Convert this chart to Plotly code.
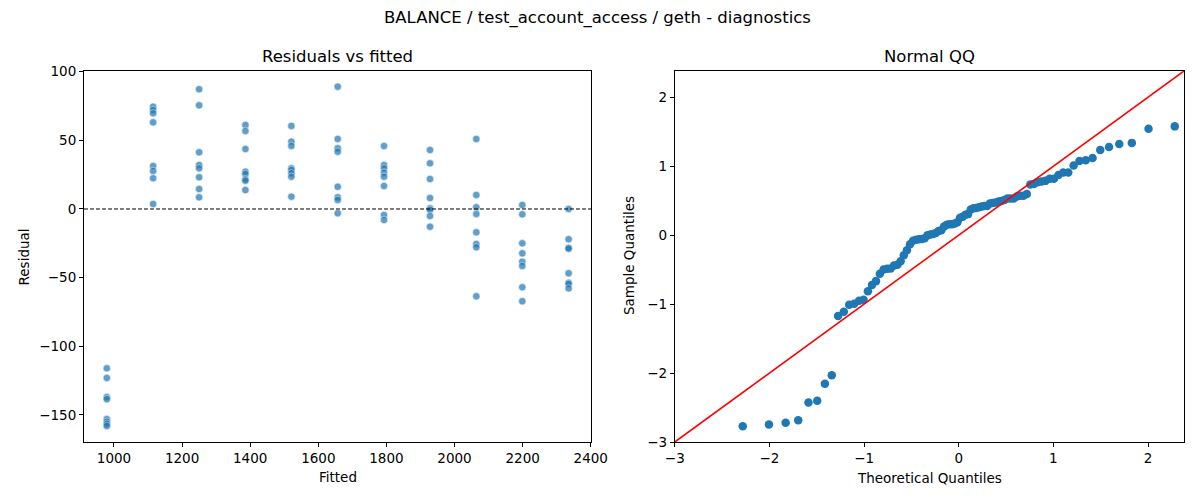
import statistics
import plotly.graph_objects as go

# residuals vs fitted: 11 fitted levels, 8 residuals at each
fitted_levels = [979, 1115, 1250, 1386, 1521, 1657, 1793, 1928, 2064, 2199, 2335]
residual_groups = [
    [-116, -123, -137, -138.5, -153, -155, -156.5, -158],
    [74.5, 72.1, 69.7, 63.1, 31.3, 27.7, 22.4, 3.6],
    [87.2, 75.5, 41.3, 32, 29.6, 23.1, 14.6, 8.5],
    [61.2, 56.8, 43.7, 27.2, 25.5, 21.6, 20.6, 13.8],
    [60.5, 49, 45.9, 29.6, 28.4, 26, 23.5, 9],
    [89.1, 51, 44.2, 41.7, 16.2, 8.5, 6.6, -3.1],
    [45.9, 32, 29.6, 26.4, 23.5, 16.8, -4.4, -8],
    [43, 33.3, 21.8, 8, 0.5, -0.7, -5.1, -12.9],
    [51, 10.2, 1.2, -3.6, -17, -25.5, -27.9, -63.6],
    [2.9, -3.9, -25, -32.3, -38.4, -41.5, -57, -67.2],
    [0, -22, -28.2, -28.9, -46.8, -53.7, -54.6, -57.8],
]

left_xticks = [1000, 1200, 1400, 1600, 1800, 2000, 2200, 2400]
left_yticks = [-150, -100, -50, 0, 50, 100]
qq_ticks = [-3, -2, -1, 0, 1, 2]

fitted = []
resid = []
for f, grp in zip(fitted_levels, residual_groups):
    for r in grp:
        fitted.append(f)
        resid.append(r)

# normal QQ (fit=True): standardise residuals, plotting positions i/(n+1)
n = len(resid)
mu = sum(resid) / n
sd = (sum((r - mu) ** 2 for r in resid) / n) ** 0.5
sample_q = sorted((r - mu) / sd for r in resid)
nd = statistics.NormalDist()
theo_q = [nd.inv_cdf(i / (n + 1)) for i in range(1, n + 1)]

FONT = "DejaVu Sans"
BLUE = "#1f77b4"

fig = go.Figure()

fig.add_trace(go.Scatter(
    x=fitted, y=resid, mode="markers", xaxis="x", yaxis="y",
    marker=dict(color=BLUE, size=7.5, opacity=0.7, line=dict(color="white", width=0.6)),
    showlegend=False,
))
fig.add_trace(go.Scatter(
    x=[912, 2402], y=[0, 0], mode="lines", xaxis="x", yaxis="y",
    line=dict(color="black", width=1, dash="4px,2px"), showlegend=False,
))

fig.add_trace(go.Scatter(
    x=theo_q, y=sample_q, mode="markers", xaxis="x2", yaxis="y2",
    marker=dict(color=BLUE, size=8.5), showlegend=False,
))
fig.add_trace(go.Scatter(
    x=[-3, 2.38], y=[-3, 2.38], mode="lines", xaxis="x2", yaxis="y2",
    line=dict(color="red", width=1.6), showlegend=False,
))

axis_common = dict(
    showline=True, mirror=True, linecolor="black", linewidth=1,
    ticks="outside", ticklen=4, tickcolor="black", tickwidth=1,
    showgrid=False, zeroline=False,
    tickfont=dict(family=FONT, size=13.5, color="black"),
)

# plot box in figure pixels (page offsets it slightly when photographed)
PW, PH = 1116, 371
LEFT_W = 514.8
RIGHT_X0 = 599.4
fig.update_layout(
    width=1200, height=500,
    margin=dict(l=76, r=8, t=63, b=66),
    paper_bgcolor="white", plot_bgcolor="white",
    font=dict(family=FONT, color="black"),
    xaxis=dict(domain=[0, LEFT_W / PW], range=[912, 2402], tickvals=left_xticks, **axis_common),
    yaxis=dict(domain=[0, 1], range=[-169.7, 100.5], tickvals=left_yticks, **axis_common),
    xaxis2=dict(domain=[RIGHT_X0 / PW, 1], range=[-3, 2.38], tickvals=qq_ticks, anchor="y2", **axis_common),
    yaxis2=dict(domain=[0, 1], range=[-3, 2.38], tickvals=qq_ticks, anchor="x2", **axis_common),
)


def note(text, px, py, size=13.5, angle=0):
    # px, py: pixel offsets from the plot box top-left corner
    return dict(text=text, x=px / PW, y=1 - py / PH, xref="paper", yref="paper",
                xanchor="center", yanchor="middle", showarrow=False,
                textangle=angle, font=dict(size=size))


qq_mid = (RIGHT_X0 + PW) / 2
fig.update_layout(annotations=[
    note("BALANCE / test_account_access / geth - diagnostics", 521.3, -53, size=16.5),
    note("Residuals vs fitted", 257.4, -15, size=16.5),
    note("Normal QQ", qq_mid, -15, size=16.5),
    note("Fitted", 257.4, 406),
    note("Theoretical Quantiles", qq_mid, 407),
    note("Residual", -60.4, 186, angle=-90),
    note("Sample Quantiles", 553, 185, angle=-90),
])

fig.write_html("out.html")
